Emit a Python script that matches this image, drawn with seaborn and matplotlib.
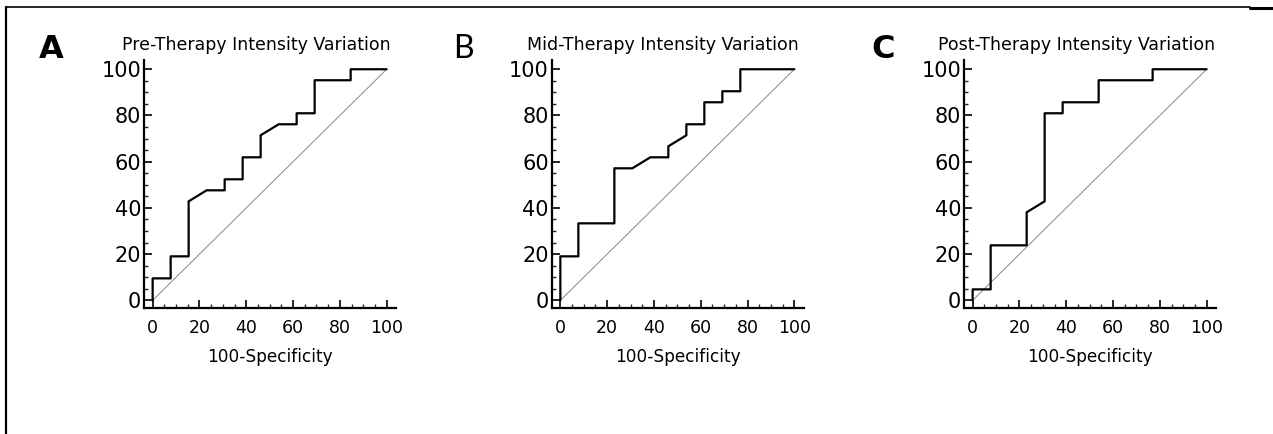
import pandas as pd
import matplotlib.pyplot as plt
import seaborn as sns
from matplotlib.lines import Line2D
from matplotlib.ticker import MultipleLocator

# ROC points (100-Specificity, Sensitivity) in percent
pre_fpr = [0, 0, 7.69, 7.69, 15.38, 15.38, 23.08, 30.77, 30.77, 38.46, 38.46,
           46.15, 46.15, 53.85, 61.54, 61.54, 69.23, 69.23, 84.62, 84.62, 100]
pre_tpr = [0, 9.52, 9.52, 19.05, 19.05, 42.86, 47.62, 47.62, 52.38, 52.38, 61.90,
           61.90, 71.43, 76.19, 76.19, 80.95, 80.95, 95.24, 95.24, 100, 100]

mid_fpr = [0, 0, 7.69, 7.69, 23.08, 23.08, 30.77, 38.46, 46.15, 46.15, 53.85,
           53.85, 61.54, 61.54, 69.23, 69.23, 76.92, 76.92, 100]
mid_tpr = [0, 19.05, 19.05, 33.33, 33.33, 57.14, 57.14, 61.90, 61.90, 66.67, 71.43,
           76.19, 76.19, 85.71, 85.71, 90.48, 90.48, 100, 100]

post_fpr = [0, 0, 7.69, 7.69, 23.08, 23.08, 30.77, 30.77, 38.46, 38.46, 53.85,
            53.85, 76.92, 76.92, 100]
post_tpr = [0, 4.76, 4.76, 23.81, 23.81, 38.10, 42.86, 80.95, 80.95, 85.71, 85.71,
            95.24, 95.24, 100, 100]

ref_line = [0, 100]

titles = ['Pre-Therapy Intensity Variation', 'Mid-Therapy Intensity Variation',
          'Post-Therapy Intensity Variation']
letters = ['A', 'B', 'C']
curves = [(pre_fpr, pre_tpr), (mid_fpr, mid_tpr), (post_fpr, post_tpr)]

sns.set_style('ticks')
plt.rcParams['font.family'] = ['DejaVu Sans']

fig = plt.figure(figsize=(12.73, 4.34), dpi=100)

lefts = [144 / 1273, 551.7 / 1273, 964 / 1273]
title_x = [122 / 1273, 527 / 1273, 938 / 1273]
letter_x = [39 / 1273, 453 / 1273, 871 / 1273]
letter_w = ['bold', 'normal', 'bold']
letter_fam = [['DejaVu Sans'], ['Lato', 'DejaVu Sans'], ['DejaVu Sans']]

for i in range(3):
    ax = fig.add_axes([lefts[i], 1 - 308 / 434, 252 / 1273, 248 / 434])
    df = pd.DataFrame({'fpr': curves[i][0], 'tpr': curves[i][1]})
    sns.lineplot(x=ref_line, y=ref_line, ax=ax, color='#888888', lw=0.7)
    sns.lineplot(data=df, x='fpr', y='tpr', ax=ax, sort=False, estimator=None,
                 color='black', lw=1.6)
    ax.set_xlim(-3.7, 104)
    ax.set_ylim(-3.3, 104)
    ax.xaxis.set_major_locator(MultipleLocator(20))
    ax.yaxis.set_major_locator(MultipleLocator(20))
    ax.xaxis.set_minor_locator(MultipleLocator(5))
    ax.yaxis.set_minor_locator(MultipleLocator(5))
    ax.tick_params(which='major', direction='in', length=6, width=1.2,
                   colors='black')
    ax.tick_params(which='minor', direction='in', length=3, width=1.0)
    ax.tick_params(axis='x', labelsize=12.5, pad=8)
    ax.tick_params(axis='y', labelsize=15, pad=2)
    for s in ['top', 'right']:
        ax.spines[s].set_visible(False)
    for s in ['left', 'bottom']:
        ax.spines[s].set_linewidth(1.6)
        ax.spines[s].set_color('black')
    ax.set_xlabel('100-Specificity', fontsize=12.2, labelpad=8, color='black')
    ax.set_ylabel('')
    fig.text(title_x[i], 1 - 45 / 434, titles[i], fontsize=12.5, ha='left',
             va='center', color='black')
    fig.text(letter_x[i], 1 - 49 / 434, letters[i], fontsize=23, fontweight=letter_w[i],
             family=letter_fam[i], ha='left', va='center', color='black')

# outer frame lines
fig.add_artist(Line2D([6 / 1273, 1250 / 1273], [1 - 7 / 434, 1 - 7 / 434],
                      color='black', lw=1.2, transform=fig.transFigure))
fig.add_artist(Line2D([1250 / 1273, 1], [1 - 7.5 / 434, 1 - 7.5 / 434],
                      color='black', lw=2.2, transform=fig.transFigure))
fig.add_artist(Line2D([6 / 1273, 6 / 1273], [0, 1 - 7 / 434],
                      color='black', lw=1.6, transform=fig.transFigure))

fig.savefig('out.png', dpi=100)
